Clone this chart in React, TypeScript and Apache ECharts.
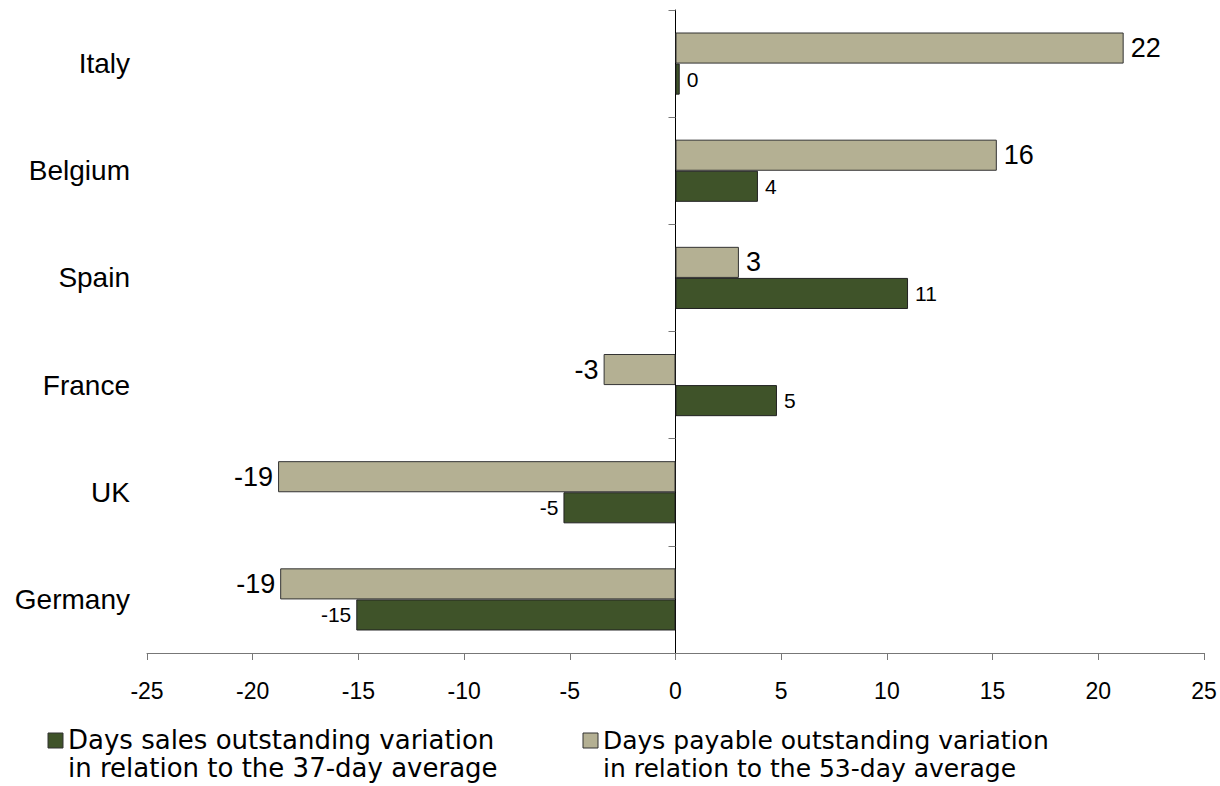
import React, { useEffect, useRef } from "react";
import * as echarts from "echarts";

const countries = ["Italy", "Belgium", "Spain", "France", "UK", "Germany"];
const payableValues = [21.2, 15.2, 3.0, -3.4, -18.8, -18.7];
const payableLabels = ["22", "16", "3", "-3", "-19", "-19"];
const salesValues = [0.2, 3.9, 11.0, 4.8, -5.3, -15.1];
const salesLabels = ["0", "4", "11", "5", "-5", "-15"];
const xTicks = { min: -25, max: 25, interval: 5 };
const salesName = ["Days sales outstanding variation", "in relation to the 37-day average"];
const payableName = ["Days payable outstanding variation", "in relation to the 53-day average"];

const SALES_COLOR = "#3f5329";
const PAYABLE_COLOR = "#b4b093";
const ARIAL = "'Liberation Sans', Arial, sans-serif";

export default function App() {
  const ref = useRef<HTMLDivElement>(null);
  useEffect(() => {
    if (!ref.current) return;
    const chart = echarts.init(ref.current, undefined, { renderer: "svg" });
    const mk = (vals: number[], labels: string[], fontSize: number) =>
      vals.map((v, i) => ({
        value: v,
        label: {
          show: true,
          position: v < 0 ? "left" : "right",
          distance: v < 0 ? 5 : 7,
          fontSize,
          fontFamily: ARIAL,
          color: "#000",
          formatter: () => labels[i],
        },
      }));
    const legendItem = (x: number, textX: number, color: string, lines: string[], size: number) => ({
      type: "group",
      children: [
        {
          type: "rect",
          shape: { x: x, y: 733, width: 15, height: 15 },
          style: { fill: color, stroke: "#333", lineWidth: 1 },
        },
        {
          type: "text",
          x: textX,
          y: 726,
          style: {
            text: lines.join("\n"),
            font: `${size}px 'DejaVu Sans', Verdana, sans-serif`,
            lineHeight: 28,
            fill: "#000",
          },
        },
      ],
    });
    chart.setOption({
      animation: false,
      backgroundColor: "#fff",
      grid: { left: 147, right: 16, top: 10, bottom: 133, containLabel: false },
      xAxis: {
        type: "value",
        min: xTicks.min,
        max: xTicks.max,
        interval: xTicks.interval,
        splitLine: { show: false },
        axisLine: { show: true, lineStyle: { color: "#777", width: 1 } },
        axisTick: { show: true, length: 7, lineStyle: { color: "#777" } },
        axisLabel: {
          margin: 26,
          fontSize: 23,
          color: "#000",
          fontFamily: ARIAL,
        },
      },
      yAxis: [
        {
          type: "category",
          data: countries,
          inverse: true,
          axisLine: { show: true, onZero: true, lineStyle: { color: "#000", width: 1 } },
          axisTick: { show: true, length: 7, lineStyle: { color: "#777" } },
          axisLabel: { show: false },
        },
        {
          type: "category",
          data: countries,
          inverse: true,
          position: "left",
          axisLine: { show: false, onZero: false },
          axisTick: { show: false },
          axisLabel: {
            show: true,
            margin: 17,
            fontSize: 28,
            color: "#000",
            fontFamily: ARIAL,
          },
        },
      ],
      series: [
        {
          name: "payable",
          type: "bar",
          yAxisIndex: 0,
          data: mk(payableValues, payableLabels, 27),
          barCategoryGap: "42%",
          barGap: 0,
          itemStyle: { color: PAYABLE_COLOR, borderColor: "#333", borderWidth: 1 },
        },
        {
          name: "sales",
          type: "bar",
          yAxisIndex: 0,
          data: mk(salesValues, salesLabels, 21),
          barCategoryGap: "42%",
          barGap: 0,
          itemStyle: { color: SALES_COLOR, borderColor: "#222", borderWidth: 1 },
        },
      ],
      graphic: [
        legendItem(48, 68, SALES_COLOR, salesName, 26),
        legendItem(583, 603, PAYABLE_COLOR, payableName, 25),
      ],
    });
    return () => chart.dispose();
  }, []);
  return <div ref={ref} style={{ width: 1220, height: 786, position: "absolute", left: 0, top: 0 }} />;
}
